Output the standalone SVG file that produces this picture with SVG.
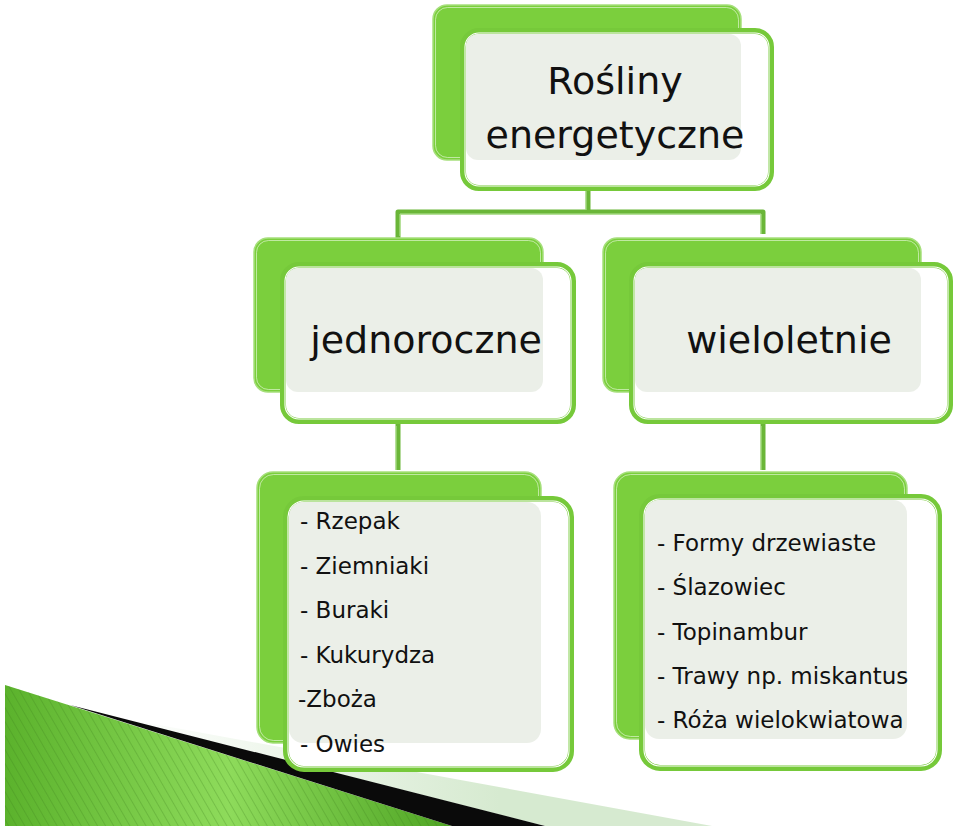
<svg xmlns="http://www.w3.org/2000/svg" width="960" height="827" viewBox="0 0 960 827">
<defs>
<style>
.back{fill:#7bcf3d;stroke:#a6df7c;stroke-width:1.5}
.backin{fill:none;stroke:#e8f7dc;stroke-width:0.8;opacity:0.8}
.front{fill:#ffffff;stroke:#76c93a;stroke-width:6}
.frontin{fill:none;stroke:#ffffff;stroke-width:1.1}
.ovl{fill:#eaeee7;opacity:0.95}
.title{font-family:"DejaVu Sans",sans-serif;font-size:38px;fill:#111111;text-anchor:middle}
.item{font-family:"DejaVu Sans",sans-serif;font-size:23px;fill:#111111}
.conn{fill:none;stroke:#6ab638;stroke-width:5;stroke-linejoin:round}
.connin{fill:none;stroke:#b8e69a;stroke-width:1}
.ghost{stroke:#c8d0c4;stroke-width:3;stroke-dasharray:1 2;opacity:0.7}
</style>
<linearGradient id="gg" x1="0" y1="0" x2="1" y2="0">
<stop offset="0" stop-color="#5bb22c"/>
<stop offset="0.5" stop-color="#8edb5b"/>
<stop offset="1" stop-color="#4fa524"/>
</linearGradient>
<linearGradient id="lb" x1="120" y1="0" x2="500" y2="0" gradientUnits="userSpaceOnUse">
<stop offset="0" stop-color="#d6ead0" stop-opacity="0"/>
<stop offset="1" stop-color="#d6ead0" stop-opacity="1"/>
</linearGradient>
<pattern id="stripes" width="7" height="7" patternUnits="userSpaceOnUse" patternTransform="rotate(-30)">
<line x1="0" y1="0" x2="0" y2="7" stroke="#3e7e1c" stroke-width="1" opacity="0.55"/>
</pattern>
</defs>

<g id="decoration">
<polygon points="110,716 712,826 545,826" fill="url(#lb)"/>
<polygon points="5,685 452,826 5,826" fill="url(#gg)"/>
<polygon points="5,685 452,826 5,826" fill="url(#stripes)"/>
<polygon points="70,705 545,826 452,826" fill="#0a0a0a"/>
</g>

<g id="connectors">
<line class="ghost" x1="588" y1="162" x2="588" y2="190"/>
<line class="ghost" x1="398" y1="394" x2="398" y2="424"/>
<line class="ghost" x1="763" y1="394" x2="763" y2="424"/>
<path class="conn" d="M588,191 V212 M398,238 V212 H763 V234"/>
<path class="connin" d="M586,191 V210 M400,236 V214 H761 V234"/>
<path class="conn" d="M398,424 V470 M763,424 V470"/>
<path class="connin" d="M396,426 V470 M761,426 V470"/>
</g>

<g id="node-root">
<rect class="back" x="433" y="5" width="308" height="155" rx="14"/>
<rect class="backin" x="435.5" y="7.5" width="303" height="150" rx="12"/>
<rect class="front" x="463" y="31" width="308" height="157" rx="16"/>
<rect class="frontin" x="465" y="33" width="304" height="153" rx="14"/>
<rect class="ovl" x="466" y="34" width="275" height="126" rx="12"/>
<text class="title" x="615" y="94">Rośliny</text>
<text class="title" x="615" y="148">energetyczne</text>
</g>

<g id="node-jednoroczne">
<rect class="back" x="254" y="238" width="289" height="154" rx="14"/>
<rect class="backin" x="256.5" y="240.5" width="284" height="149" rx="12"/>
<rect class="front" x="283" y="265" width="290" height="156" rx="16"/>
<rect class="frontin" x="285" y="267" width="286" height="152" rx="14"/>
<rect class="ovl" x="286" y="268" width="257" height="124" rx="12"/>
<text class="title" x="426" y="353">jednoroczne</text>
</g>

<g id="node-wieloletnie">
<rect class="back" x="603" y="238" width="318" height="154" rx="14"/>
<rect class="backin" x="605.5" y="240.5" width="313" height="149" rx="12"/>
<rect class="front" x="632" y="265" width="318" height="156" rx="16"/>
<rect class="frontin" x="634" y="267" width="314" height="152" rx="14"/>
<rect class="ovl" x="635" y="268" width="286" height="124" rx="12"/>
<text class="title" x="789" y="353">wieloletnie</text>
</g>

<g id="node-jednoroczne-list">
<rect class="back" x="257" y="472" width="284" height="271" rx="16"/>
<rect class="backin" x="259.5" y="474.5" width="279" height="266" rx="14"/>
<rect class="front" x="286" y="499" width="285" height="270" rx="18"/>
<rect class="frontin" x="288" y="501" width="281" height="266" rx="16"/>
<rect class="ovl" x="289" y="502" width="252" height="241" rx="14"/>
<text class="item" x="300" y="529">- Rzepak</text>
<text class="item" x="300" y="574">- Ziemniaki</text>
<text class="item" x="300" y="618">- Buraki</text>
<text class="item" x="300" y="663">- Kukurydza</text>
<text class="item" x="298" y="707">-Zboża</text>
<text class="item" x="300" y="752">- Owies</text>
</g>

<g id="node-wieloletnie-list">
<rect class="back" x="614" y="472" width="293" height="267" rx="16"/>
<rect class="backin" x="616.5" y="474.5" width="288" height="262" rx="14"/>
<rect class="front" x="642" y="497" width="297" height="271" rx="18"/>
<rect class="frontin" x="644" y="499" width="293" height="267" rx="16"/>
<rect class="ovl" x="645" y="500" width="262" height="239" rx="14"/>
<text class="item" x="657" y="551">- Formy drzewiaste</text>
<text class="item" x="657" y="595">- Ślazowiec</text>
<text class="item" x="657" y="640">- Topinambur</text>
<text class="item" x="657" y="684">- Trawy np. miskantus</text>
<text class="item" x="657" y="728">- Róża wielokwiatowa</text>
</g>
</svg>
